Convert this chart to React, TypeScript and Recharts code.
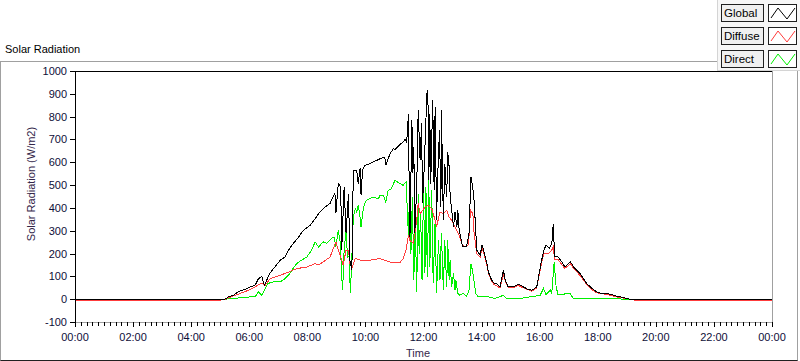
import { LineChart, Line, XAxis, YAxis, ReferenceLine } from "recharts";

// minutes since midnight / W/m2
const globalMin = [0, 310, 317, 327, 337, 344, 351, 362, 372, 379, 386, 391, 396, 403, 413, 424, 434, 441, 451, 461, 472, 486, 496, 506, 517, 527, 537, 539, 544, 549, 551, 556, 560, 565, 568, 572, 575, 582, 585, 589, 591, 594, 599, 606, 616, 630, 640, 642, 651, 658, 661, 671, 678, 682, 685, 686, 689, 691, 692, 696, 698, 700, 702, 706, 709, 713, 716, 718, 721, 723, 727, 729, 731, 733, 735, 739, 742, 744, 747, 749, 753, 756, 757, 761, 764, 768, 770, 773, 775, 782, 785, 789, 791, 793, 799, 802, 809, 814, 818, 821, 824, 826, 830, 837, 841, 846, 851, 854, 861, 866, 871, 878, 885, 889, 895, 906, 916, 926, 937, 944, 954, 959, 964, 969, 973, 980, 983, 985, 988, 991, 998, 1006, 1012, 1019, 1024, 1030, 1043, 1057, 1068, 1078, 1085, 1095, 1105, 1119, 1133, 1147, 1440];
const globalW = [0, 0, 10, 17, 32, 39, 42, 54, 61, 90, 100, 61, 83, 115, 141, 171, 185, 215, 244, 270, 302, 324, 353, 382, 404, 420, 464, 376, 507, 492, 215, 492, 289, 463, 171, 127, 565, 565, 507, 574, 455, 565, 587, 590, 601, 615, 623, 587, 638, 660, 655, 678, 689, 700, 690, 710, 813, 346, 273, 784, 552, 667, 289, 492, 828, 609, 770, 420, 552, 667, 901, 915, 521, 813, 507, 872, 477, 842, 346, 521, 740, 404, 828, 346, 594, 448, 645, 580, 455, 317, 382, 317, 390, 317, 244, 229, 229, 288, 536, 500, 448, 375, 215, 193, 237, 200, 156, 120, 83, 69, 69, 54, 127, 83, 54, 54, 66, 54, 42, 39, 54, 113, 171, 215, 237, 222, 237, 240, 331, 185, 185, 163, 141, 155, 163, 141, 113, 69, 47, 32, 27, 25, 22, 13, 7, 0, 0];

const diffuseMin = [0, 300, 310, 341, 362, 372, 386, 393, 403, 417, 437, 458, 479, 496, 502, 513, 527, 539, 544, 551, 554, 560, 565, 568, 572, 579, 589, 609, 630, 651, 671, 678, 684, 689, 692, 699, 702, 706, 709, 713, 716, 723, 730, 737, 744, 747, 754, 761, 768, 773, 778, 785, 792, 799, 806, 813, 817, 822, 824, 830, 837, 841, 846, 851, 854, 861, 866, 878, 885, 889, 895, 906, 916, 926, 944, 954, 959, 964, 969, 978, 985, 988, 991, 998, 1006, 1012, 1024, 1030, 1043, 1057, 1068, 1078, 1095, 1119, 1147, 1157, 1440];
const diffuseW = [-4, -4, 0, 25, 42, 54, 71, 61, 90, 100, 115, 134, 141, 156, 149, 163, 185, 251, 215, 171, 149, 215, 215, 156, 134, 178, 171, 171, 178, 163, 159, 178, 215, 280, 258, 244, 288, 346, 419, 375, 382, 404, 412, 397, 346, 317, 382, 375, 390, 360, 346, 317, 288, 244, 229, 240, 390, 375, 300, 200, 185, 225, 190, 150, 115, 78, 64, 50, 110, 78, 50, 50, 60, 50, 35, 50, 105, 160, 200, 200, 215, 229, 175, 175, 150, 135, 155, 135, 105, 65, 42, 28, 22, 10, 0, -4, -4];

const directMin = [0, 310, 362, 372, 379, 386, 393, 399, 410, 424, 434, 441, 448, 458, 468, 479, 489, 496, 503, 513, 520, 530, 535, 539, 544, 548, 551, 553, 556, 560, 563, 566, 569, 572, 575, 579, 582, 585, 589, 591, 596, 602, 616, 627, 630, 637, 642, 647, 654, 661, 671, 678, 684, 686, 689, 691, 694, 697, 700, 703, 706, 709, 711, 714, 717, 720, 723, 725, 728, 731, 733, 737, 740, 744, 747, 751, 754, 757, 761, 764, 768, 770, 773, 775, 778, 782, 785, 787, 791, 795, 802, 809, 814, 818, 821, 824, 828, 833, 844, 854, 868, 885, 891, 919, 961, 968, 973, 982, 985, 990, 994, 998, 1023, 1029, 1084, 1143, 1440];
const directW = [0, 0, 10, 10, 32, 17, 47, 69, 76, 76, 90, 105, 127, 156, 171, 185, 215, 251, 229, 251, 244, 266, 273, 229, 302, 250, 98, 39, 215, 302, 185, 190, 25, 185, 360, 397, 382, 412, 360, 317, 404, 434, 448, 440, 455, 455, 426, 477, 485, 521, 507, 499, 514, 419, 273, 477, 200, 448, 83, 346, 32, 463, 200, 375, 83, 477, 113, 492, 98, 521, 141, 477, 69, 346, 25, 258, 83, 288, 39, 258, 54, 258, 83, 171, 54, 113, 39, 83, 25, 17, 25, 13, 39, 156, 127, 83, 25, 10, 13, 10, 3, 17, 4, 3, 17, 47, 20, 39, 25, 163, 54, 20, 25, 5, 3, 0, 0];

const majorTicks = [0, 120, 240, 360, 480, 600, 720, 840, 960, 1080, 1200, 1320, 1440];
const timeLabels = ["00:00", "02:00", "04:00", "06:00", "08:00", "10:00", "12:00", "14:00", "16:00", "18:00", "20:00", "22:00", "00:00"];
const yTicks = [-100, 0, 100, 200, 300, 400, 500, 600, 700, 800, 900, 1000];

const seriesNames = ["Global", "Diffuse", "Direct"];
const seriesColors = ["#000000", "#ff3c3c", "#00f000"];

const FONT = "'Liberation Sans', Arial, sans-serif";
const TICK_COLOR = "#0e0e38";
const TITLE_COLOR = "#33264a";

// minor ticks every 12 minutes
const xTicks = Array.from({ length: 121 }, (_, i) => i * 12);

const rows = (mins: number[], vals: number[]) => mins.map((t, i) => ({ t, v: vals[i] }));
const globalData = rows(globalMin, globalW);
const diffuseData = rows(diffuseMin, diffuseW);
const directData = rows(directMin, directW);

function TimeTick(props: any) {
  const { x, y, payload } = props;
  const idx = majorTicks.indexOf(payload.value);
  const major = idx >= 0;
  const px = Math.round(x) + 0.5;
  return (
    <g>
      <line x1={px} x2={px} y1={y} y2={y + (major ? 5 : 4)} stroke="#000" />
      {major && (
        <text x={x} y={y + 19} textAnchor="middle" fontSize={11} fill={TICK_COLOR} fontFamily={FONT}>
          {timeLabels[idx]}
        </text>
      )}
    </g>
  );
}

function ValueTick(props: any) {
  const { x, y, payload } = props;
  const py = Math.round(y) + 0.5;
  return (
    <g>
      <line x1={x - 5} x2={x} y1={py} y2={py} stroke="#000" />
      <text x={x - 8} y={y + 4} textAnchor="end" fontSize={11} fill={TICK_COLOR} fontFamily={FONT}>
        {payload.value}
      </text>
    </g>
  );
}

function Swatch({ color }: { color: string }) {
  return (
    <svg width={27} height={16} style={{ display: "block" }}>
      <polyline points="2,13 9,3 18,14 26,3" fill="none" stroke={color} strokeWidth={1} />
    </svg>
  );
}

export default function App() {
  return (
    <div style={{ position: "absolute", left: 0, top: 0, width: 800, height: 361, background: "#fff", fontFamily: FONT }}>
      <style>{".recharts-line path, .recharts-reference-line line, .recharts-cartesian-axis-line { shape-rendering: crispEdges; }"}</style>
      <div
        style={{
          position: "absolute",
          left: 0,
          top: 61,
          width: 796,
          height: 298,
          borderTop: "1px solid #a0a0a0",
          borderLeft: "1px solid #a0a0a0",
          borderRight: "1px solid #a0a0a0",
          borderBottom: "1px solid #202020",
        }}
      />
      <div style={{ position: "absolute", left: 5, top: 43, fontSize: 11, lineHeight: "13px", color: "#000" }}>
        Solar Radiation
      </div>

      <div style={{ position: "absolute", left: 0, top: 0 }}>
        <LineChart width={800} height={361} margin={{ top: 71, right: 28, left: 0, bottom: 0 }}>
          <XAxis
            dataKey="t"
            type="number"
            domain={[0, 1440]}
            ticks={xTicks}
            interval={0}
            tick={<TimeTick />}
            tickSize={0}
            tickMargin={0}
            tickLine={false}
            height={39}
            axisLine={{ stroke: "#a0a0a0" }}
            allowDataOverflow
          />
          <YAxis
            type="number"
            domain={[-100, 1000]}
            ticks={yTicks}
            interval={0}
            tick={<ValueTick />}
            tickSize={0}
            tickMargin={0}
            tickLine={false}
            width={75}
            axisLine={{ stroke: "#000" }}
            allowDataOverflow
          />
          <ReferenceLine y={1000} stroke="#000" />
          <ReferenceLine x={1440} stroke="#a0a0a0" />
          <Line data={directData} dataKey="v" stroke={seriesColors[2]} dot={false} strokeWidth={1} isAnimationActive={false} />
          <Line data={diffuseData} dataKey="v" stroke={seriesColors[1]} dot={false} strokeWidth={1} isAnimationActive={false} />
          <Line data={globalData} dataKey="v" stroke={seriesColors[0]} dot={false} strokeWidth={1} isAnimationActive={false} />
        </LineChart>
      </div>

      <div
        style={{
          position: "absolute",
          left: 31,
          top: 184,
          transform: "translate(-50%, -50%) rotate(-90deg)",
          whiteSpace: "nowrap",
          fontSize: 11,
          color: TITLE_COLOR,
        }}
      >
        Solar Radiation (W/m2)
      </div>
      <div
        style={{
          position: "absolute",
          left: 418,
          top: 353,
          transform: "translate(-50%, -50%)",
          fontSize: 11,
          color: TITLE_COLOR,
        }}
      >
        Time
      </div>

      <div
        style={{
          position: "absolute",
          left: 717,
          top: 0,
          width: 83,
          height: 71,
          background: "#f7f7f7",
          borderLeft: "1px solid #d4d4d4",
          borderBottom: "1px solid #d4d4d4",
          boxSizing: "border-box",
        }}
      >
        {seriesNames.map((name, i) => (
          <div key={name}>
            <div
              style={{
                position: "absolute",
                left: 3,
                top: 4 + i * 23,
                width: 43,
                height: 18,
                boxSizing: "border-box",
                border: "1px solid #202020",
                background: "#f0f0f0",
                fontSize: 11.5,
                lineHeight: "16px",
                paddingLeft: 2,
                color: "#000",
              }}
            >
              {name}
            </div>
            <div
              style={{
                position: "absolute",
                left: 50,
                top: 4 + i * 23,
                width: 29,
                height: 18,
                boxSizing: "border-box",
                border: "1px solid #202020",
                background: "#fff",
              }}
            >
              <Swatch color={seriesColors[i]} />
            </div>
          </div>
        ))}
      </div>
    </div>
  );
}
